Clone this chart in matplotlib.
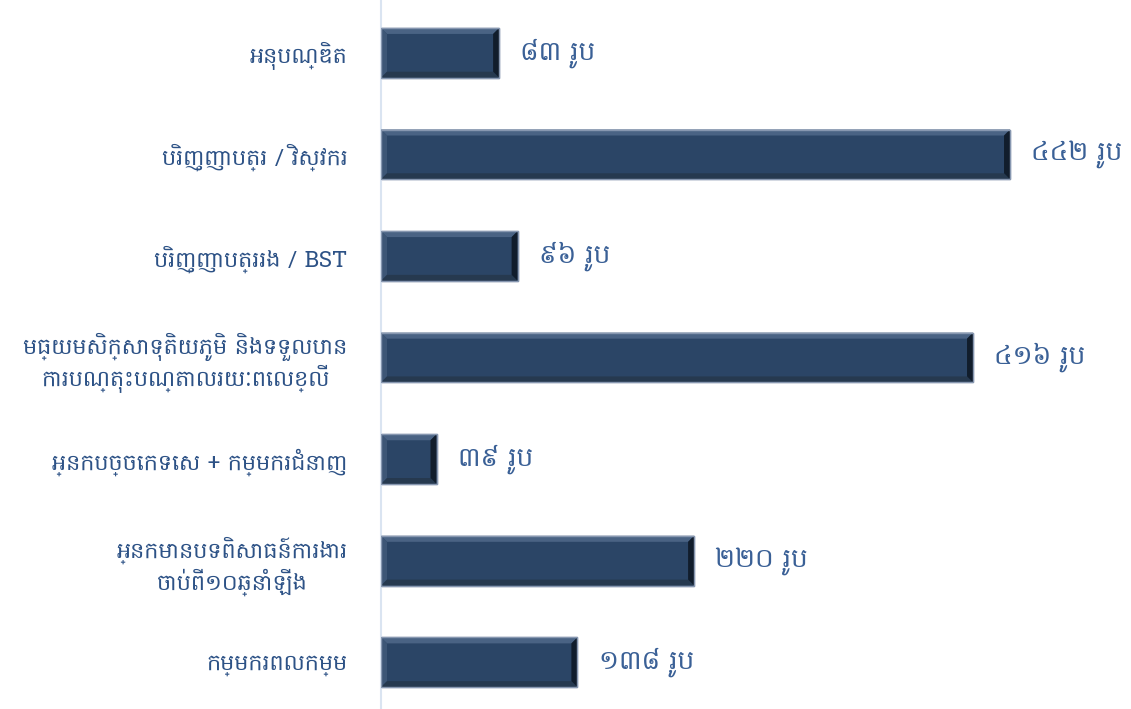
import matplotlib
matplotlib.use("Agg")
import matplotlib.pyplot as plt
from matplotlib import font_manager
from matplotlib.patches import Polygon

# Categories (top to bottom) and head counts
categories = [
    "អនុបណ្ឌិត",
    "បរិញ្ញាបត្រ / វិស្វករ",
    "បរិញ្ញាបត្ររង / BST",
    "មធ្យមសិក្សាទុតិយភូមិ និងទទួលបាន\nការបណ្តុះបណ្តាលរយៈពេលខ្លី",
    "អ្នកបច្ចេកទេស + កម្មករជំនាញ",
    "អ្នកមានបទពិសោធន៍ការងារ\nចាប់ពី១០ឆ្នាំឡើង",
    "កម្មករពលកម្ម",
]
counts = [83, 442, 96, 416, 39, 220, 138]
unit = "រូប"

KHMER_DIGITS = "០១២៣៤៥៦៧៨៩"


def to_khmer(n):
    return "".join(KHMER_DIGITS[int(c)] for c in str(n))


# Prefer any installed font with Khmer glyphs, then general fallbacks
khmer_fonts = sorted({f.name for f in font_manager.fontManager.ttflist
                      if "khmer" in f.name.lower() or "hanuman" in f.name.lower()})
families = khmer_fonts + ["Noto Sans", "DejaVu Sans"]
plt.rcParams["font.family"] = families

BAR = "#2b4566"
TEXT = "#2d5286"
VALUE = "#3a6096"

fig = plt.figure(figsize=(11.31, 7.09), dpi=100)
ax = fig.add_axes([381 / 1131, 0.0, 1 - 381 / 1131, 1.0])

ypos = list(range(len(categories)))
bars = ax.barh(ypos, counts, height=0.49, color=BAR,
               edgecolor="#8797b0", linewidth=1.0, zorder=2)

ax.set_xlim(0, 527)
ax.set_ylim(6.46, -0.52)

fig.canvas.draw()
axw = ax.get_window_extent().width
axh = ax.get_window_extent().height
x0, x1 = ax.get_xlim()
yb, yt = ax.get_ylim()
bx = 6 * (x1 - x0) / axw
by = 6 * abs(yt - yb) / axh

# Bevelled faces derived from each bar's rectangle
for rect in bars:
    L = rect.get_x()
    R = L + rect.get_width()
    T = rect.get_y()
    B = T + rect.get_height()
    faces = [
        ([(L, T), (R, T), (R - bx, T + by), (L + bx, T + by)], "#4a6384"),
        ([(L, T), (L + bx, T + by), (L + bx, B - by), (L, B)], "#3d5676"),
        ([(L, B), (L + bx, B - by), (R - bx, B - by), (R, B)], "#26394f"),
        ([(R, T), (R, B), (R - bx, B - by), (R - bx, T + by)], "#111d2c"),
    ]
    for pts, col in faces:
        ax.add_patch(Polygon(pts, closed=True, facecolor=col,
                             edgecolor="none", zorder=3))
    ax.add_patch(Polygon([(L, T), (R, T), (R, B), (L, B)], closed=True,
                         fill=False, edgecolor="#8797b0", linewidth=1.0,
                         zorder=4))

for rect, v in zip(bars, counts):
    ax.text(rect.get_width() + 15, rect.get_y() + rect.get_height() / 2,
            f"{to_khmer(v)} {unit}", va="center", ha="left",
            fontsize=19, fontweight="bold", color=VALUE, zorder=5)

ax.set_yticks(ypos)
ax.set_yticklabels(categories, fontsize=16, color=TEXT)
for lbl in ax.get_yticklabels():
    lbl.set_multialignment("center")
ax.tick_params(axis="y", length=0, pad=24)
ax.tick_params(axis="x", length=0, labelbottom=False)

for side in ("top", "right", "bottom"):
    ax.spines[side].set_visible(False)
ax.spines["left"].set_color("#dae4f1")
ax.spines["left"].set_linewidth(1.5)

fig.savefig("out.png", dpi=100, facecolor="white")
